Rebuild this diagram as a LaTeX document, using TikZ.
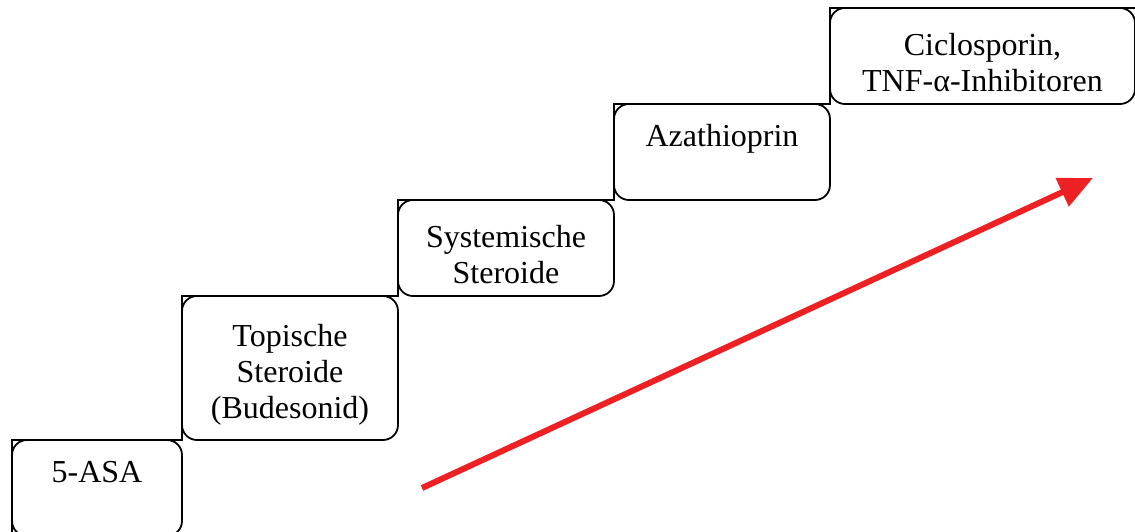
\documentclass[tikz,border=0pt]{standalone}
\usepackage{fontspec}
\setmainfont{Liberation Serif}
\usepackage{xcolor}
\usepackage{tikz}
\usetikzlibrary{arrows.meta,positioning}
\definecolor{sred}{HTML}{ED2024}
\newcommand\lift{\rule{0pt}{36pt}}

\begin{document}
\begin{tikzpicture}[x=1pt, y=-1pt, font=\fontsize{32}{36}\selectfont,
  box/.style={draw, line width=1.8pt, rounded corners=15pt, align=center,
    minimum height=96pt, outer sep=0pt, inner sep=2pt},
  stair/.style={draw, line width=1.8pt, line join=miter},
  arr/.style={-{Triangle[length=34pt, width=30pt]}, sred, line width=6pt}]
\useasboundingbox (0,0) rectangle (1135,532);
\node[box, minimum width=170pt, anchor=north west] (asa) at (12,440) {\lift 5-ASA\\\strut};
\node[box, minimum width=216pt, minimum height=144pt, anchor=south west] (topi) at (asa.north east) {\lift Topische\\Steroide\\(Budesonid)};
\node[box, minimum width=216pt, anchor=south west] (sys) at (topi.north east) {\lift Systemische\\Steroide};
\node[box, minimum width=216pt, anchor=south west] (aza) at (sys.north east) {\lift Azathioprin\\\strut};
\node[box, minimum width=305pt, anchor=south west] (cic) at (aza.north east) {\lift Ciclosporin,\\TNF-α-Inhibitoren};
% step outline
\draw[stair] (asa.south west) -- (asa.north west) -- (topi.south west) -- (topi.north west)
  -- (sys.south west) -- (sys.north west) -- (aza.south west) -- (aza.north west)
  -- (cic.south west) -- (cic.north west) -- (cic.north east);
\coordinate (from) at (422,488);
\coordinate (to) at (1093,178);
\draw[arr] (from) -- (to);
\end{tikzpicture}
\end{document}
